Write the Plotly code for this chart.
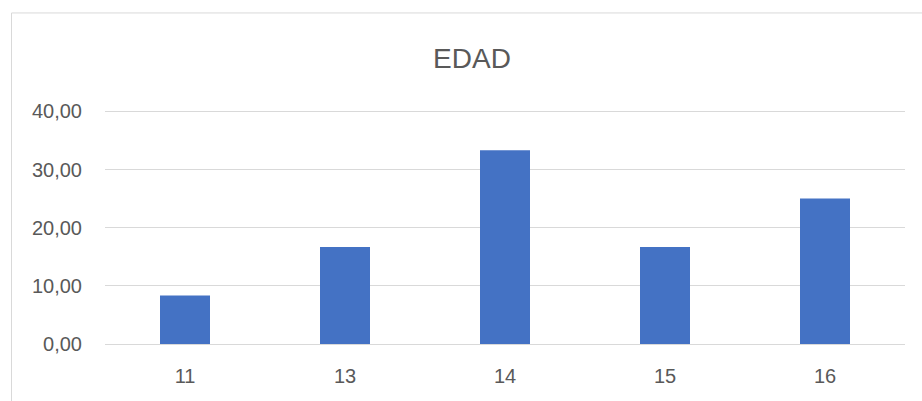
import plotly.graph_objects as go

categories = ["11", "13", "14", "15", "16"]
values = [8.33, 16.67, 33.33, 16.67, 25.00]
title_text = "EDAD"
y_ticks = [0, 10, 20, 30, 40]

W, H = 922, 401
Y_TOP = 40.4
L, R, B = 105, 17, 57
T = (H - B) - Y_TOP * 233 / 40
pw, ph = W - L - R, H - T - B

def px_x(p):
    return (p - L) / pw

def px_y(p):
    return (H - B - p) / ph

fig = go.Figure(go.Bar(x=categories, y=values, marker=dict(color="#4472C4", line=dict(width=0))))

fig.update_layout(
    width=W, height=H,
    margin=dict(l=L, r=R, t=T, b=B),
    paper_bgcolor="white", plot_bgcolor="white",
    separators=",.",
    bargap=0.6875,
    font=dict(family="Liberation Sans, Arial, sans-serif", color="#595959", size=20),
    title=dict(text=title_text, x=472 / W, xanchor="center", y=1 - 58.5 / H, yanchor="middle",
               font=dict(size=28, color="#595959")),
    showlegend=False,
    shapes=[dict(type="rect", xref="paper", yref="paper",
                 x0=px_x(11.5), x1=px_x(930), y0=px_y(12.5), y1=px_y(410),
                 line=dict(color="#d9d9d9", width=1), fillcolor="rgba(0,0,0,0)", layer="below")],
)
fig.update_yaxes(range=[0, Y_TOP], tickvals=y_ticks, tickformat=".2f", showgrid=True,
                 gridcolor="#d9d9d9", gridwidth=1, zeroline=True, zerolinecolor="#d9d9d9",
                 zerolinewidth=1, showline=False,
                 ticks="", ticklabelstandoff=22, tickfont=dict(size=20, color="#595959"))
fig.update_xaxes(type="category", showgrid=False, zeroline=False, showline=False,
                 ticks="", ticklabelstandoff=18, tickfont=dict(size=20, color="#595959"))

fig.write_html("out.html", config={"displayModeBar": False},
               post_script="document.body.style.margin='0';document.body.style.overflow='hidden';")
